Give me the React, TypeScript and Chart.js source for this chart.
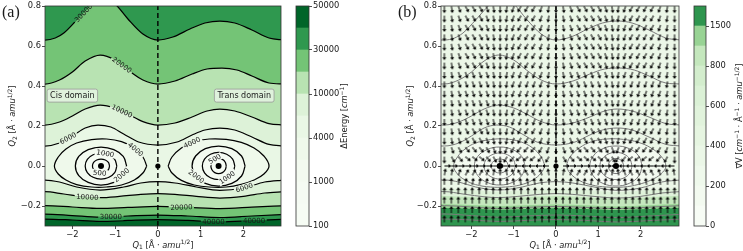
import React, { useEffect, useRef } from 'react';
import { Chart, registerables } from 'chart.js';

Chart.register(...registerables);

type P = [number, number];
type Seg = { t: string; it?: boolean; sub?: boolean; sup?: boolean };

const FONT = '"DejaVu Sans", sans-serif';
const TXT = '#1a1a1a';

// ---------- axes ----------
const X_TICKS = [-2, -1, 0, 1, 2];
const Y_TICKS = [-0.2, 0, 0.2, 0.4, 0.6, 0.8];
const Y_MIN = -0.3;
const Y_MAX = 0.8;
const A_X_MIN = -2.64;
const A_X_MAX = 2.88;
const B_X_MIN = -2.72;
const B_X_MAX = 2.91;

// ---------- colour bars ----------
const ENERGY_LEVELS = [100, 500, 1000, 2000, 4000, 6000, 10000, 20000, 30000, 40000, 50000];
const ENERGY_COLORS = ['#f6fcf4', '#f5fbf3', '#f3faf0', '#eff9eb', '#e9f7e5', '#ddf2d8', '#b8e3b2', '#74c476', '#2f984f', '#006529'];
const ENERGY_TICK_IDX = [0, 2, 4, 6, 8, 10];
const GRAD_LEVELS = [0, 100, 200, 300, 400, 500, 600, 700, 800, 1000, 1500, 2000];
const GRAD_COLORS = ['#f7fcf5', '#f3faf0', '#eff9ec', '#ebf7e7', '#e6f5e1', '#e1f3dc', '#dbf1d6', '#d3edcd', '#c4e7bd', '#98d394', '#2e954e'];
const GRAD_TICK_IDX = [0, 2, 4, 6, 8, 10];

// ---------- energy contours (upper branches) ----------
const U6000: P[] = [[-2.75, 0.1], [-2.64, 0.1], [-2.3, 0.115], [-2.0, 0.15], [-1.7, 0.19], [-1.4, 0.205], [-1.1, 0.195], [-0.8, 0.16], [-0.45, 0.12], [0, 0.105], [0.45, 0.12], [0.8, 0.155], [1.1, 0.18], [1.45, 0.19], [1.8, 0.18], [2.2, 0.145], [2.6, 0.108], [2.95, 0.1]];
const U10000: P[] = [[-2.75, 0.205], [-2.64, 0.205], [-2.3, 0.22], [-2.0, 0.25], [-1.7, 0.285], [-1.35, 0.305], [-1.0, 0.29], [-0.7, 0.26], [-0.35, 0.222], [0, 0.205], [0.4, 0.215], [0.8, 0.245], [1.15, 0.275], [1.45, 0.285], [1.8, 0.275], [2.2, 0.245], [2.6, 0.212], [2.95, 0.205]];
const U20000: P[] = [[-2.75, 0.41], [-2.64, 0.41], [-2.3, 0.43], [-2.0, 0.47], [-1.7, 0.525], [-1.35, 0.555], [-1.0, 0.53], [-0.7, 0.48], [-0.35, 0.43], [0, 0.41], [0.4, 0.425], [0.8, 0.46], [1.15, 0.485], [1.5, 0.49], [1.85, 0.48], [2.2, 0.45], [2.6, 0.415], [2.95, 0.41]];
const U30000: P[] = [[-2.75, 0.63], [-2.64, 0.63], [-2.4, 0.64], [-2.2, 0.665], [-1.9, 0.73], [-1.6, 0.8], [-1.3, 0.845], [-1.0, 0.81], [-0.7, 0.735], [-0.35, 0.66], [0, 0.63], [0.35, 0.645], [0.75, 0.685], [1.1, 0.715], [1.45, 0.725], [1.8, 0.715], [2.2, 0.68], [2.6, 0.64], [2.95, 0.63]];

// ---------- energy contours (lower branches) ----------
const L6000: P[] = [[-2.75, -0.07], [-2.64, -0.07], [-2.3, -0.08], [-1.9, -0.105], [-1.35, -0.12], [-0.8, -0.105], [-0.4, -0.085], [0, -0.078], [0.4, -0.085], [0.9, -0.105], [1.45, -0.122], [2.0, -0.11], [2.5, -0.08], [2.95, -0.07]];
const L10000: P[] = [[-2.75, -0.128], [-2.64, -0.128], [-2.2, -0.14], [-1.65, -0.155], [-1.35, -0.158], [-0.9, -0.152], [-0.4, -0.142], [0, -0.138], [0.4, -0.142], [0.9, -0.152], [1.45, -0.16], [2.0, -0.152], [2.5, -0.135], [2.95, -0.128]];
const L20000: P[] = [[-2.75, -0.198], [-2.64, -0.198], [-2.0, -0.205], [-1.35, -0.212], [-0.7, -0.207], [0, -0.202], [0.7, -0.207], [1.45, -0.213], [2.2, -0.206], [2.95, -0.198]];
const L30000: P[] = [[-2.75, -0.24], [-2.64, -0.24], [-2.0, -0.248], [-1.35, -0.256], [-0.7, -0.25], [0, -0.245], [0.7, -0.25], [1.45, -0.258], [2.2, -0.25], [2.95, -0.242]];
const L40000: P[] = [[-2.75, -0.265], [-2.64, -0.265], [-2.0, -0.27], [-1.35, -0.277], [-0.7, -0.272], [0, -0.268], [0.7, -0.272], [1.45, -0.28], [2.2, -0.273], [2.95, -0.266]];

// ---------- closed energy contours around the two minima ----------
const EGG_L: P[] = [[-0.26, 0], [-0.35, 0.045], [-0.55, 0.09], [-0.85, 0.122], [-1.2, 0.135], [-1.55, 0.132], [-1.9, 0.115], [-2.15, 0.085], [-2.33, 0.045], [-2.42, 0], [-2.33, -0.04], [-2.15, -0.07], [-1.9, -0.093], [-1.55, -0.105], [-1.2, -0.105], [-0.85, -0.095], [-0.55, -0.07], [-0.35, -0.035], [-0.26, 0]];
const EGG_R: P[] = [[0.24, 0], [0.33, 0.045], [0.55, 0.09], [0.85, 0.122], [1.2, 0.135], [1.6, 0.133], [1.95, 0.118], [2.25, 0.09], [2.48, 0.05], [2.6, 0], [2.48, -0.04], [2.25, -0.07], [1.95, -0.092], [1.6, -0.105], [1.2, -0.105], [0.85, -0.095], [0.55, -0.072], [0.33, -0.035], [0.24, 0]];
const R2000_L: P[] = [[-0.73, 0], [-0.81, 0.048], [-1.03, 0.082], [-1.33, 0.095], [-1.63, 0.082], [-1.85, 0.048], [-1.93, 0], [-1.85, -0.048], [-1.63, -0.082], [-1.33, -0.095], [-1.03, -0.082], [-0.81, -0.048], [-0.73, 0]];
const R1000_L: P[] = [[-0.96, 0], [-1.01, 0.033], [-1.145, 0.056], [-1.33, 0.065], [-1.515, 0.056], [-1.65, 0.033], [-1.7, 0], [-1.65, -0.033], [-1.515, -0.056], [-1.33, -0.065], [-1.145, -0.056], [-1.01, -0.033], [-0.96, 0]];
const R500_L: P[] = [[-1.13, 0], [-1.157, 0.018], [-1.23, 0.03], [-1.33, 0.035], [-1.43, 0.03], [-1.503, 0.018], [-1.53, 0], [-1.503, -0.018], [-1.43, -0.03], [-1.33, -0.035], [-1.23, -0.03], [-1.157, -0.018], [-1.13, 0]];
const R2000_R: P[] = [[2.04, 0], [1.957, 0.05], [1.73, 0.087], [1.42, 0.1], [1.11, 0.087], [0.883, 0.05], [0.8, 0], [0.883, -0.05], [1.11, -0.087], [1.42, -0.1], [1.73, -0.087], [1.957, -0.05], [2.04, 0]];
const R1000_R: P[] = [[1.8, 0], [1.749, 0.034], [1.61, 0.059], [1.42, 0.068], [1.23, 0.059], [1.091, 0.034], [1.04, 0], [1.091, -0.034], [1.23, -0.059], [1.42, -0.068], [1.61, -0.059], [1.749, -0.034], [1.8, 0]];
const R500_R: P[] = [[1.6, 0], [1.576, 0.019], [1.51, 0.033], [1.42, 0.038], [1.33, 0.033], [1.264, 0.019], [1.24, 0], [1.264, -0.019], [1.33, -0.033], [1.42, -0.038], [1.51, -0.033], [1.576, -0.019], [1.6, 0]];

// ---------- gradient-magnitude band boundaries (panel b) ----------
const GB_L1: P[] = [[-2.75, -0.112], [-2.0, -0.12], [-1.35, -0.128], [-0.7, -0.12], [0, -0.115], [0.7, -0.12], [1.45, -0.13], [2.2, -0.12], [2.95, -0.112]];
const GB_L2: P[] = [[-2.75, -0.148], [-2.0, -0.155], [-1.35, -0.162], [-0.7, -0.156], [0, -0.15], [0.7, -0.156], [1.45, -0.164], [2.2, -0.156], [2.95, -0.148]];
const GB_L3: P[] = [[-2.75, -0.19], [-2.0, -0.195], [-1.35, -0.2], [-0.7, -0.196], [0, -0.192], [0.7, -0.196], [1.45, -0.202], [2.2, -0.196], [2.95, -0.19]];
const GB_L4: P[] = [[-2.75, -0.21], [-2.0, -0.214], [-1.35, -0.219], [-0.7, -0.215], [0, -0.211], [0.7, -0.215], [1.45, -0.22], [2.2, -0.215], [2.95, -0.21]];

// ---------- stationary points / dividing line ----------
const MINIMA: P[] = [[-1.33, 0], [1.42, 0]];
const SADDLE: P[] = [[0, 0]];
const DIVIDER: P[] = [[0, -0.3], [0, 0.8]];

// ---------- contour labels (panel a) ----------
const CONTOUR_LABELS = [
  { level: 30000, x: -1.74, y: 0.765, angle: -47, hi: 'up' },
  { level: 20000, x: -0.84, y: 0.505, angle: 36, hi: 'up' },
  { level: 10000, x: -0.84, y: 0.275, angle: 25, hi: 'up' },
  { level: 6000, x: -2.1, y: 0.139, angle: -28, hi: 'up' },
  { level: 4000, x: -0.52, y: 0.083, angle: 40, hi: 'up' },
  { level: 4000, x: 0.8, y: 0.117, angle: -26, hi: 'up' },
  { level: 1000, x: -1.23, y: 0.063, angle: 10, hi: 'up' },
  { level: 500, x: -1.36, y: -0.035, angle: 5, hi: 'down' },
  { level: 2000, x: -0.85, y: -0.045, angle: -40, hi: 'down' },
  { level: 500, x: 1.33, y: 0.035, angle: -30, hi: 'up' },
  { level: 2000, x: 0.9, y: -0.052, angle: 37, hi: 'down' },
  { level: 1000, x: 1.62, y: -0.058, angle: -35, hi: 'down' },
  { level: 6000, x: 2.02, y: -0.108, angle: -18, hi: 'down' },
  { level: 10000, x: -1.65, y: -0.155, angle: 3, hi: 'down' },
  { level: 20000, x: 0.55, y: -0.206, angle: -3, hi: 'down' },
  { level: 30000, x: -1.1, y: -0.254, angle: 0, hi: 'down' },
  { level: 40000, x: 1.3, y: -0.278, angle: 0, hi: 'down' },
  { level: 40000, x: 2.25, y: -0.273, angle: 0, hi: 'down' },
];

const DOMAIN_LABELS = [
  { text: 'Cis domain', x: -2.0, y: 0.352 },
  { text: 'Trans domain', x: 2.02, y: 0.352 },
];

// ---------- quiver grid (panel b) ----------
const QX = [-2.64, -2.475, -2.31, -2.145, -1.98, -1.815, -1.65, -1.485, -1.32, -1.155, -0.99, -0.825, -0.66, -0.495, -0.33, -0.165, 0, 0.165, 0.33, 0.495, 0.66, 0.825, 0.99, 1.155, 1.32, 1.485, 1.65, 1.815, 1.98, 2.145, 2.31, 2.475, 2.64, 2.805];
const QY = [0.799, 0.752, 0.705, 0.658, 0.611, 0.564, 0.517, 0.47, 0.423, 0.376, 0.329, 0.282, 0.235, 0.188, 0.141, 0.094, 0.047, 0, -0.047, -0.094, -0.141, -0.188, -0.235, -0.282];
// arrow direction per grid cell: base-36 digit x 10 degrees (counter-clockwise from +x); '.' = no arrow
const QDIR = [
  'rstuuutsrqpooopqrstuuuutsqpoooopqr',
  'rstuuutsrqpooopqrstuuuutsqpoooopqr',
  'rstuuutsrqpooopqrstuuuutsqpoooopqr',
  'rstuuutsrqpooopqrstuuuutsqpoooopqr',
  'rstuuutsrqpooopqrstuuuutsqpoooopqr',
  'rstuuutsrqpooopqrstuuuutsqpoooopqr',
  'rstuuutsrqpooopqrstuuuutsqpoooopqr',
  'rstttttsrqpppppqrsttttttsqppppppqr',
  'rstttttsrqpppppqrsttttttsqppppppqr',
  'rstttttsrqpppppqrsttttttsqppppppqr',
  'rstttttsrqpppppqrsttttttsqppppppqr',
  'rstttttsrqpppppqrsttttttsqppppppqr',
  'rstttttsrqpppppqrsttttttsqppppppqr',
  'rstuuutsrqpooopqrstuuuutsqpoooopqr',
  'rstuuutsrqpooopqrstuuuutsqpoooopqr',
  'rtuvvvutrponnnoprtuvvvvutponnnnopr',
  'ruvwwwvuronmmmnoruvwwwwvuonmmmmnor',
  '00000000.iiiiiii.00000000iiiiiiiii',
  '887666789abcccba987666678abccccbaa',
  '9988888999aaaaa99988888899aaaaaa99',
  '9999999999999999999999999999999999',
  '9999999999999999999999999999999999',
  '9999999999999999999999999999999999',
  '9999999999999999999999999999999999',
];

// ---------- texts ----------
const Q1_LABEL: Seg[] = [{ t: 'Q', it: true }, { t: '1', sub: true }, { t: ' [Å · ' }, { t: 'amu', it: true }, { t: '1/2', sup: true }, { t: ']' }];
const Q2_LABEL: Seg[] = [{ t: 'Q', it: true }, { t: '2', sub: true }, { t: ' [Å · ' }, { t: 'amu', it: true }, { t: '1/2', sup: true }, { t: ']' }];
const E_LABEL: Seg[] = [{ t: 'ΔEnergy [' }, { t: 'cm', it: true }, { t: '−1', sup: true }, { t: ']' }];
const G_LABEL: Seg[] = [{ t: '∇\u20D7V [' }, { t: 'cm', it: true }, { t: '−1', sup: true }, { t: ' · Å' }, { t: '−1', sup: true }, { t: ' · ' }, { t: 'amu', it: true }, { t: '−1/2', sup: true }, { t: ']' }];

// ---------- helpers ----------
const pts = (a: P[]) => a.map(([x, y]) => ({ x, y }));
const fmtTick = (v: number, d: number) => (v < -1e-9 ? '\u2212' : '') + Math.abs(v).toFixed(d);

function drawRich(ctx: CanvasRenderingContext2D, segs: Seg[], x: number, y: number, size: number, vertical: boolean) {
  const fontOf = (s: Seg) => `${s.it ? 'italic ' : ''}${s.sub || s.sup ? (size * 0.72).toFixed(2) : size}px ${FONT}`;
  ctx.save();
  ctx.translate(x, y);
  if (vertical) ctx.rotate(-Math.PI / 2);
  let w = 0;
  for (const s of segs) { ctx.font = fontOf(s); w += ctx.measureText(s.t).width; }
  let cx = -w / 2;
  ctx.fillStyle = TXT;
  ctx.textAlign = 'left';
  ctx.textBaseline = 'alphabetic';
  for (const s of segs) {
    ctx.font = fontOf(s);
    const dy = s.sub ? size * 0.22 : s.sup ? -size * 0.42 : 0;
    ctx.fillText(s.t, cx, dy);
    cx += ctx.measureText(s.t).width;
  }
  ctx.restore();
}

function lineDs(arr: P[], color: string, width: number, fill: any, bg: string, closed: boolean) {
  return {
    data: pts(arr),
    borderColor: color,
    borderWidth: width,
    backgroundColor: bg,
    fill,
    pointRadius: 0,
    pointHoverRadius: 0,
    tension: 0.4,
    cubicInterpolationMode: closed ? 'default' : 'monotone',
  };
}

function withOrder(ds: any[]) {
  return ds.map((d, i) => ({ ...d, order: ds.length - i }));
}

function mainScales(xmin: number, xmax: number, yWidth: number) {
  const tickFont = { family: FONT, size: 8.3 };
  const grid = { drawOnChartArea: false, drawTicks: true, tickLength: 3, color: '#222', lineWidth: 0.8 };
  return {
    x: {
      type: 'linear', min: xmin, max: xmax,
      afterBuildTicks: (s: any) => { s.ticks = X_TICKS.map((v) => ({ value: v })); },
      afterFit: (s: any) => { s.height = 25; },
      ticks: { callback: (v: any) => fmtTick(Number(v), 0), font: tickFont, color: TXT, padding: 1, maxRotation: 0, autoSkip: false },
      grid, border: { display: false },
    },
    y: {
      type: 'linear', min: Y_MIN, max: Y_MAX,
      afterBuildTicks: (s: any) => { s.ticks = Y_TICKS.map((v) => ({ value: v })); },
      afterFit: (s: any) => { s.width = yWidth; },
      ticks: { callback: (v: any) => fmtTick(Number(v), 1), font: tickFont, color: TXT, padding: 1, autoSkip: false },
      grid, border: { display: false },
    },
  };
}

function frame(chart: any) {
  const { ctx, chartArea: a } = chart;
  ctx.save();
  ctx.strokeStyle = '#333';
  ctx.lineWidth = 0.8;
  ctx.strokeRect(a.left, a.top, a.right - a.left, a.bottom - a.top);
  ctx.restore();
}

function fillArea(chart: any, color: string) {
  const { ctx, chartArea: a } = chart;
  ctx.save();
  ctx.fillStyle = color;
  ctx.fillRect(a.left, a.top, a.right - a.left, a.bottom - a.top);
  ctx.restore();
}

function makeArrow(): HTMLCanvasElement {
  const size = 18;
  const c = document.createElement('canvas');
  c.width = size; c.height = size;
  const g = c.getContext('2d')!;
  const cx = size / 2, cy = size / 2;
  const L = 7, hl = 2.8, hw = 2.1, sw = 0.6;
  g.fillStyle = '#000';
  g.beginPath();
  g.moveTo(cx, cy - sw);
  g.lineTo(cx + L - hl, cy - sw);
  g.lineTo(cx + L - hl, cy - hw);
  g.lineTo(cx + L, cy);
  g.lineTo(cx + L - hl, cy + hw);
  g.lineTo(cx + L - hl, cy + sw);
  g.lineTo(cx, cy + sw);
  g.closePath();
  g.fill();
  return c;
}

function dotsDs() {
  return {
    data: pts([...MINIMA, ...SADDLE]),
    showLine: false,
    pointRadius: [3, 3, 2.6],
    pointBackgroundColor: '#000',
    pointBorderWidth: 0,
    pointHoverRadius: 0,
  };
}

function dividerDs() {
  return {
    data: pts(DIVIDER),
    borderColor: '#000',
    borderWidth: 1.4,
    borderDash: [5, 3],
    pointRadius: 0,
    fill: false,
  };
}

// ---------- panel a ----------
function panelAConfig() {
  const K = '#000';
  const W = 1.25;
  const C = ENERGY_COLORS;
  const datasets = withOrder([
    lineDs(U6000, K, W, 'end', C[5], false),
    lineDs(L6000, K, W, 'start', C[5], false),
    lineDs(U10000, K, W, 'end', C[6], false),
    lineDs(L10000, K, W, 'start', C[6], false),
    lineDs(U20000, K, W, 'end', C[7], false),
    lineDs(L20000, K, W, 'start', C[7], false),
    lineDs(U30000, K, W, 'end', C[8], false),
    lineDs(L30000, K, W, 'start', C[8], false),
    lineDs(L40000, K, W, 'start', C[9], false),
    lineDs(EGG_L, K, W, 'shape', C[3], true),
    lineDs(EGG_R, K, W, 'shape', C[3], true),
    lineDs(R2000_L, K, W, 'shape', C[2], true),
    lineDs(R2000_R, K, W, 'shape', C[2], true),
    lineDs(R1000_L, K, W, 'shape', C[1], true),
    lineDs(R1000_R, K, W, 'shape', C[1], true),
    lineDs(R500_L, K, W, 'shape', C[0], true),
    lineDs(R500_R, K, W, 'shape', C[0], true),
    dividerDs(),
    dotsDs(),
  ]);
  const plugin = {
    id: 'panelA',
    beforeDatasetsDraw(chart: any) { fillArea(chart, ENERGY_COLORS[4]); },
    afterDatasetsDraw(chart: any) {
      const { ctx, chartArea: a, scales } = chart;
      ctx.save();
      ctx.beginPath();
      ctx.rect(a.left, a.top, a.right - a.left, a.bottom - a.top);
      ctx.clip();
      ctx.font = `7px ${FONT}`;
      ctx.textAlign = 'center';
      ctx.textBaseline = 'middle';
      for (const l of CONTOUR_LABELS) {
        const px = scales.x.getPixelForValue(l.x);
        const py = scales.y.getPixelForValue(l.y);
        const idx = ENERGY_LEVELS.indexOf(l.level);
        const lo = ENERGY_COLORS[idx - 1];
        const hi = ENERGY_COLORS[idx];
        const txt = String(l.level);
        const w = ctx.measureText(txt).width + 3;
        const h = 7;
        ctx.save();
        ctx.translate(px, py);
        ctx.rotate((l.angle * Math.PI) / 180);
        ctx.fillStyle = l.hi === 'up' ? hi : lo;
        ctx.fillRect(-w / 2, -h / 2, w, h / 2);
        ctx.fillStyle = l.hi === 'up' ? lo : hi;
        ctx.fillRect(-w / 2, 0, w, h / 2);
        ctx.fillStyle = TXT;
        ctx.fillText(txt, 0, 0.5);
        ctx.restore();
      }
      ctx.font = `8px ${FONT}`;
      for (const d of DOMAIN_LABELS) {
        const px = scales.x.getPixelForValue(d.x);
        const py = scales.y.getPixelForValue(d.y);
        const w = ctx.measureText(d.text).width + 6;
        const h = 13;
        ctx.beginPath();
        (ctx as any).roundRect(px - w / 2, py - h / 2, w, h, 2);
        ctx.fillStyle = 'rgba(255,255,255,0.55)';
        ctx.fill();
        ctx.strokeStyle = '#999';
        ctx.lineWidth = 0.8;
        ctx.stroke();
        ctx.fillStyle = TXT;
        ctx.fillText(d.text, px, py + 0.5);
      }
      ctx.restore();
    },
    afterDraw(chart: any) {
      frame(chart);
      const { ctx, chartArea: a } = chart;
      ctx.save();
      ctx.font = '16px "Liberation Serif", serif';
      ctx.fillStyle = TXT;
      ctx.textBaseline = 'alphabetic';
      ctx.textAlign = 'left';
      ctx.fillText('(a)', 2, 16.5);
      ctx.restore();
      drawRich(ctx, Q1_LABEL, (a.left + a.right) / 2, 247.5, 8.3, false);
      drawRich(ctx, Q2_LABEL, 15, (a.top + a.bottom) / 2, 8.3, true);
    },
  };
  return {
    type: 'line',
    data: { datasets },
    options: {
      responsive: false, animation: false, events: [], devicePixelRatio: 1,
      layout: { padding: { left: 0, right: 9, top: 6, bottom: 0 } },
      plugins: { legend: { display: false }, tooltip: { enabled: false } },
      scales: mainScales(A_X_MIN, A_X_MAX, 45),
    },
    plugins: [plugin],
  };
}

// ---------- panel b ----------
function panelBConfig() {
  const G = '#7a7a7a';
  const W = 1.0;
  const NONE = 'rgba(0,0,0,0)';
  const arrow = makeArrow();
  const quiver: any[] = [];
  QDIR.forEach((row, r) => {
    for (let c = 0; c < row.length; c++) {
      const ch = row[c];
      if (ch === '.') continue;
      quiver.push({ x: QX[c], y: QY[r], a: parseInt(ch, 36) * 10 });
    }
  });
  const datasets = withOrder([
    lineDs(GB_L1, NONE, 0, 'start', '#dff2da', false),
    lineDs(GB_L2, NONE, 0, 'start', GRAD_COLORS[8], false),
    lineDs(GB_L3, NONE, 0, 'start', GRAD_COLORS[9], false),
    lineDs(GB_L4, NONE, 0, 'start', GRAD_COLORS[10], false),
    lineDs(EGG_L, NONE, 0, 'shape', GRAD_COLORS[1], true),
    lineDs(EGG_R, NONE, 0, 'shape', GRAD_COLORS[1], true),
    lineDs(R2000_L, NONE, 0, 'shape', GRAD_COLORS[0], true),
    lineDs(R2000_R, NONE, 0, 'shape', GRAD_COLORS[0], true),
    ...[U6000, U10000, U20000, U30000, L6000, L10000, L20000, L30000, L40000].map((a) => lineDs(a, G, W, false, NONE, false)),
    ...[EGG_L, EGG_R, R2000_L, R2000_R, R1000_L, R1000_R, R500_L, R500_R].map((a) => lineDs(a, G, W, false, NONE, true)),
    {
      data: quiver,
      showLine: false,
      pointStyle: arrow,
      pointRadius: 1,
      pointHoverRadius: 1,
      rotation: (ctx: any) => -((ctx.raw && ctx.raw.a) || 0),
    },
    dividerDs(),
    dotsDs(),
  ]);
  const plugin = {
    id: 'panelB',
    beforeDatasetsDraw(chart: any) { fillArea(chart, '#ecf7e8'); },
    afterDraw(chart: any) {
      frame(chart);
      const { ctx, chartArea: a } = chart;
      ctx.save();
      ctx.font = '16px "Liberation Serif", serif';
      ctx.fillStyle = TXT;
      ctx.textBaseline = 'alphabetic';
      ctx.textAlign = 'left';
      ctx.fillText('(b)', 38, 16.5);
      ctx.restore();
      drawRich(ctx, Q1_LABEL, (a.left + a.right) / 2, 247.5, 8.3, false);
      drawRich(ctx, Q2_LABEL, 53, (a.top + a.bottom) / 2, 8.3, true);
    },
  };
  return {
    type: 'line',
    data: { datasets },
    options: {
      responsive: false, animation: false, events: [], devicePixelRatio: 1,
      layout: { padding: { left: 0, right: 9, top: 6, bottom: 0 } },
      plugins: { legend: { display: false }, tooltip: { enabled: false } },
      scales: mainScales(B_X_MIN, B_X_MAX, 81),
    },
    plugins: [plugin],
  };
}

// ---------- colour bars ----------
function colorbarConfig(levels: number[], colors: string[], tickIdx: number[], title: Seg[], axisWidth: number, titleX: number) {
  const plugin = {
    id: 'cbar',
    afterDraw(chart: any) {
      frame(chart);
      const { chartArea: a } = chart;
      drawRich(chart.ctx, title, titleX, (a.top + a.bottom) / 2, 8.3, true);
    },
  };
  return {
    type: 'bar',
    data: {
      labels: [''],
      datasets: colors.map((c) => ({ data: [1], backgroundColor: c, borderWidth: 0, barPercentage: 1, categoryPercentage: 1 })),
    },
    options: {
      responsive: false, animation: false, events: [], devicePixelRatio: 1,
      layout: { padding: { left: 6, right: 0, top: 6, bottom: 25 } },
      plugins: { legend: { display: false }, tooltip: { enabled: false } },
      scales: {
        x: { display: false, stacked: true },
        y: {
          stacked: true, min: 0, max: colors.length, position: 'right',
          afterFit: (s: any) => { s.width = axisWidth; },
          afterBuildTicks: (s: any) => { s.ticks = tickIdx.map((v) => ({ value: v })); },
          ticks: { callback: (v: any) => String(levels[Number(v)]), font: { family: FONT, size: 8.3 }, color: TXT, padding: 1, autoSkip: false },
          grid: { drawOnChartArea: false, drawTicks: true, tickLength: 3, color: '#222', lineWidth: 0.8 },
          border: { display: false },
        },
      },
    },
    plugins: [plugin],
  };
}

export default function App() {
  const aRef = useRef<HTMLCanvasElement>(null);
  const acRef = useRef<HTMLCanvasElement>(null);
  const bRef = useRef<HTMLCanvasElement>(null);
  const bcRef = useRef<HTMLCanvasElement>(null);

  useEffect(() => {
    Chart.defaults.font.family = FONT;
    const charts: Chart[] = [];
    charts.push(new Chart(aRef.current!, panelAConfig() as any));
    charts.push(new Chart(acRef.current!, colorbarConfig(ENERGY_LEVELS, ENERGY_COLORS, ENERGY_TICK_IDX, E_LABEL, 56, 57) as any));
    charts.push(new Chart(bRef.current!, panelBConfig() as any));
    charts.push(new Chart(bcRef.current!, colorbarConfig(GRAD_LEVELS, GRAD_COLORS, GRAD_TICK_IDX, G_LABEL, 37, 54) as any));
    return () => charts.forEach((c) => c.destroy());
  }, []);

  return (
    <div style={{ position: 'fixed', left: 0, top: 0, width: 743, height: 251, background: '#fff', overflow: 'hidden' }}>
      <canvas ref={aRef} width={290} height={251} style={{ position: 'absolute', left: 0, top: 0 }} />
      <canvas ref={acRef} width={75} height={251} style={{ position: 'absolute', left: 290, top: 0 }} />
      <canvas ref={bRef} width={328} height={251} style={{ position: 'absolute', left: 360, top: 0 }} />
      <canvas ref={bcRef} width={55} height={251} style={{ position: 'absolute', left: 688, top: 0 }} />
    </div>
  );
}
